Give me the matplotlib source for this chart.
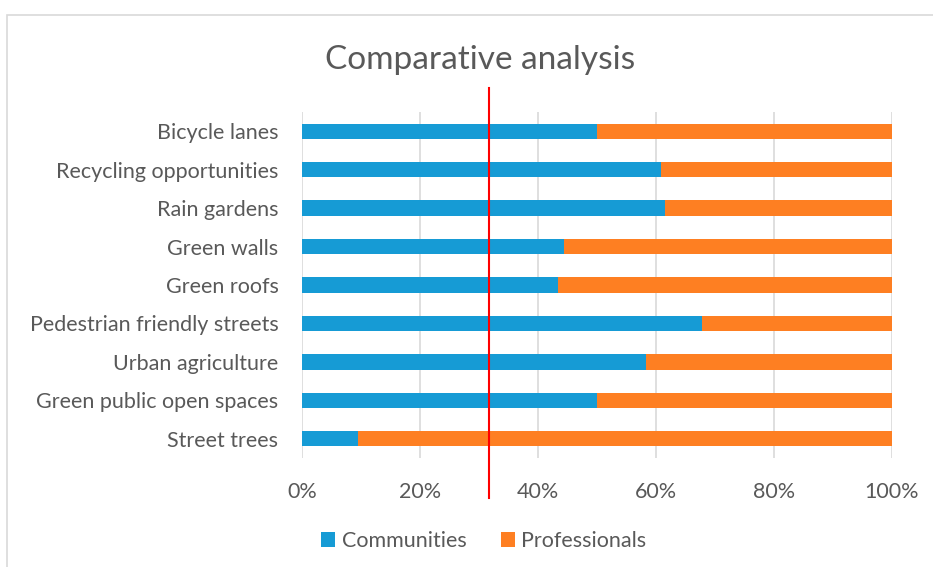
import matplotlib
matplotlib.use('Agg')
import matplotlib.pyplot as plt
from matplotlib.patches import Rectangle
from matplotlib.ticker import PercentFormatter

# data (share of responses, %)
categories = ["Street trees", "Green public open spaces", "Urban agriculture",
              "Pedestrian friendly streets", "Green roofs", "Green walls",
              "Rain gardens", "Recycling opportunities", "Bicycle lanes"]
communities = [9.5, 50.0, 58.3, 67.8, 43.4, 44.4, 61.5, 60.8, 50.0]
professionals = [100 - v for v in communities]
marker_x = 31.7

blue = '#169BD5'
orange = '#FE7F22'
grey_txt = '#595959'

plt.rcParams['font.family'] = ['Lato', 'DejaVu Sans']

fig = plt.figure(figsize=(9.33, 5.67), dpi=100)
ax = fig.add_axes([302 / 933, 1 - 458 / 567, 590 / 933, 346 / 567])

# outer chart frame
fig.patches.append(Rectangle((7 / 933, -0.05), 1.0, 1 - 15 / 567 + 0.05,
                             transform=fig.transFigure, fill=False,
                             edgecolor='#d9d9d9', linewidth=1.2))

y = range(len(categories))
ax.barh(y, communities, height=0.4, color=blue, label='Communities', zorder=2)
ax.barh(y, professionals, left=communities, height=0.4, color=orange,
        label='Professionals', zorder=2)

ax.set_xlim(0, 100)
ax.set_ylim(-0.5, len(categories) - 0.5)
ax.set_yticks(list(y))
ax.set_yticklabels(categories, fontsize=15.5, color=grey_txt)
ax.set_xticks([0, 20, 40, 60, 80, 100])
ax.xaxis.set_major_formatter(PercentFormatter(decimals=0))
ax.tick_params(axis='x', labelsize=15.5, labelcolor=grey_txt, length=0, pad=17)
ax.tick_params(axis='y', length=0, pad=17)
ax.grid(axis='x', color='#d9d9d9', linewidth=1.2, zorder=0)
for s in ax.spines.values():
    s.set_visible(False)

# red reference line
ax.plot([marker_x, marker_x], [-0.116, 1.069], color='red', linewidth=1.5,
        transform=ax.get_xaxis_transform(), clip_on=False, zorder=5)

fig.text(480 / 933, 1 - 60 / 567, 'Comparative analysis', ha='center', va='center',
         fontsize=24, color=grey_txt)

leg = fig.legend(loc='center', bbox_to_anchor=(484 / 933, 1 - 541 / 567), ncol=2,
                 frameon=False, fontsize=15.5, handlelength=0.65, handleheight=0.65,
                 handletextpad=0.3, columnspacing=1.6)
for t in leg.get_texts():
    t.set_color(grey_txt)

plt.savefig('out.png', dpi=100)
